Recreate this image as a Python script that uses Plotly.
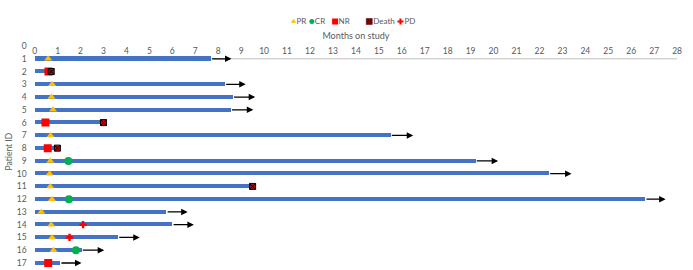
import plotly.graph_objects as go

patients = list(range(1, 18))
followup = [7.67, 0.72, 8.28, 8.62, 8.53, 3.0, 15.5, 0.99, 19.2, 22.4, 9.5, 26.6, 5.73, 5.99, 3.62, 2.03, 1.1]

ongoing_ids = [1, 3, 4, 5, 7, 9, 10, 12, 13, 14, 15, 16, 17]
ongoing_end = [8.58, 9.2, 9.61, 9.53, 16.5, 20.2, 23.4, 27.5, 6.67, 6.94, 4.58, 3.03, 2.04]

pr_ids = [1, 3, 4, 5, 7, 9, 10, 11, 12, 13, 14, 15, 16]
pr_t = [0.59, 0.76, 0.73, 0.8, 0.69, 0.68, 0.65, 0.68, 0.75, 0.29, 0.72, 0.76, 0.82]
cr_ids = [9, 12, 16]
cr_t = [1.47, 1.49, 1.8]
nr_ids = [2, 6, 8, 17]
nr_t = [0.6, 0.47, 0.57, 0.59]
death_ids = [2, 6, 8, 11]
death_t = [0.72, 3.0, 0.99, 9.5]
pd_ids = [14, 15]
pd_t = [2.11, 1.52]

x_ticks = list(range(0, 29))
y_ticks = list(range(0, 18))

legend_labels = ["PR", "CR", "NR", "Death", "PD"]

W, H = 693, 270
font_fam = "Lato"
gray = "#595959"

styles = {
    "PR": dict(symbol="triangle-up", size=7, color="#FFC000"),
    "CR": dict(symbol="circle", size=8, color="#00B050"),
    "NR": dict(symbol="square", size=8, color="#FF0000"),
    "Death": dict(symbol="square-x", size=6, color="#D00000", line=dict(color="black", width=1)),
    "PD": dict(symbol="cross", size=6, color="#FF0000"),
}
legend_style = {
    "PR": dict(symbol="triangle-up", size=5, color="#FFC000"),
    "CR": dict(symbol="circle", size=5, color="#00B050"),
    "NR": dict(symbol="square", size=6, color="#FF0000"),
    "Death": dict(symbol="square", size=6, color="#7F0000", line=dict(color="#3a0000", width=0.5)),
    "PD": dict(symbol="cross", size=5, color="#FF0000"),
}
legend_px = [294.5, 313, 336.5, 371, 402.5]
legend_text_px = [297.5, 316, 340, 375, 406.5]
legend_py = 21.5

Y_TOP_PX = 33.3  # top of y domain in pixels

fig = go.Figure()

fig.add_shape(type="line", x0=0, x1=28, y0=1, y1=1, xref="x", yref="y",
              line=dict(color="#BFBFBF", width=1), layer="below")

fig.add_trace(go.Bar(x=followup, y=patients, orientation="h", width=0.32,
                     marker=dict(color="#4472C4", line=dict(width=0)),
                     showlegend=False, hoverinfo="skip"))

for pid, end in zip(ongoing_ids, ongoing_end):
    start = followup[patients.index(pid)]
    fig.add_annotation(x=end, y=pid, ax=start, ay=pid, xref="x", yref="y",
                       axref="x", ayref="y", showarrow=True, arrowhead=2,
                       arrowsize=1, arrowwidth=1.3, arrowcolor="black", text="")

event_data = {
    "PR": (pr_t, pr_ids),
    "CR": (cr_t, cr_ids),
    "NR": (nr_t, nr_ids),
    "Death": (death_t, death_ids),
    "PD": (pd_t, pd_ids),
}
for name in ["PR", "CR", "NR", "Death", "PD"]:
    xs, ys = event_data[name]
    fig.add_trace(go.Scatter(x=xs, y=ys, mode="markers", name=name,
                             marker=styles[name], showlegend=False))

# compact legend drawn on a pixel-space axis pair
for lab, px, tx in zip(legend_labels, legend_px, legend_text_px):
    fig.add_trace(go.Scatter(x=[px], y=[legend_py], mode="markers",
                             marker=legend_style[lab], xaxis="x2", yaxis="y2",
                             showlegend=False, hoverinfo="skip", cliponaxis=False))
    fig.add_trace(go.Scatter(x=[tx], y=[legend_py], mode="text", text=[lab],
                             textposition="middle right",
                             textfont=dict(size=8, color=gray, family=font_fam),
                             xaxis="x2", yaxis="y2",
                             showlegend=False, hoverinfo="skip", cliponaxis=False))

fig.update_layout(
    width=W, height=H,
    margin=dict(l=0, r=0, t=0, b=0),
    plot_bgcolor="rgba(0,0,0,0)", paper_bgcolor="white",
    font=dict(family=font_fam, size=8, color=gray),
    bargap=0,
    showlegend=False,
    xaxis=dict(domain=[33 / W, 682 / W], range=[0, 28], side="top", anchor="free",
               position=1 - 55.5 / H,
               tickvals=x_ticks, ticktext=[str(v) for v in x_ticks],
               showgrid=False, zeroline=False, showline=False,
               ticks="", tickfont=dict(size=8.5, color=gray),
               title=dict(text="Months on study", font=dict(size=9, color=gray), standoff=3)),
    yaxis=dict(domain=[0, 1 - Y_TOP_PX / H], range=[17.55, -1.0], tickvals=y_ticks,
               ticktext=[str(v) for v in y_ticks], anchor="x", ticklabelstandoff=7,
               showgrid=False, zeroline=False, showline=False, ticks="",
               tickfont=dict(size=8.5, color=gray),
               title=dict(text="Patient ID", font=dict(size=8.5, color=gray), standoff=2)),
    xaxis2=dict(domain=[0, 1], range=[0, W], visible=False, anchor="y2"),
    yaxis2=dict(domain=[0, 1], range=[H, 0], visible=False, anchor="x2"),
)

fig.write_html("out.html")
